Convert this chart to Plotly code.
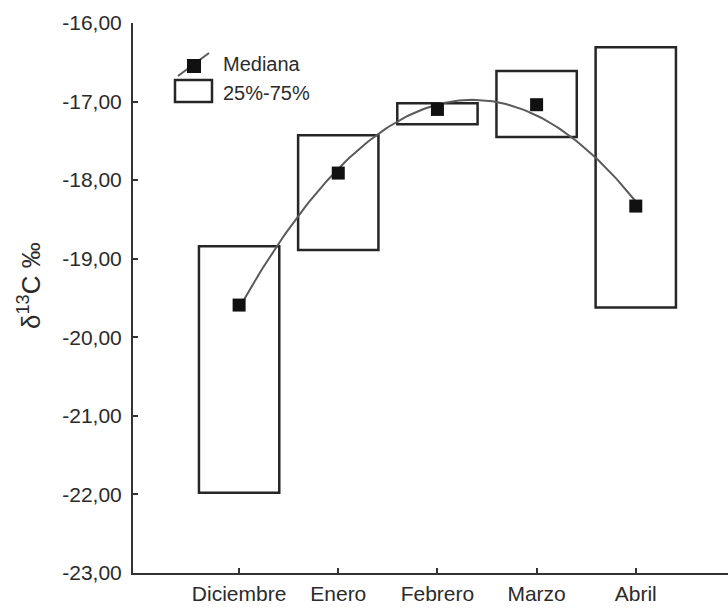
import numpy as np
import plotly.graph_objects as go

# Monthly delta-13C summary (per mil)
meses = ["Diciembre", "Enero", "Febrero", "Marzo", "Abril"]
mediana = [-19.59, -17.91, -17.10, -17.04, -18.33]
p25 = [-21.98, -18.89, -17.29, -17.45, -19.62]
p75 = [-18.84, -17.43, -17.02, -16.61, -16.31]
y_ticks = [-23, -22, -21, -20, -19, -18, -17, -16]
y_tick_text = [f"{v:.2f}".replace(".", ",") for v in y_ticks]

x = np.arange(len(meses))

# quadratic trend through the medians
coef = np.polyfit(x, mediana, 2)
xs = np.linspace(0, len(meses) - 1, 120)
ys = np.polyval(coef, xs)

W, H = 728, 609
L, R, T, B = 133, 0, 23, 36
pw, ph = W - L - R, H - T - B


def px(v):
    return (v - L) / pw


def py(v):
    return (H - B - v) / ph


ink = "#262626"
family = "Arial, Liberation Sans, sans-serif"
font = dict(family=family, size=20, color="#2b2b2b")
tick_font = dict(family=family, size=21, color="#2b2b2b")

fig = go.Figure()

fig.add_trace(go.Bar(
    x=x, base=p25, y=[hi - lo for hi, lo in zip(p75, p25)],
    width=0.81, marker=dict(color="rgba(255,255,255,0)", line=dict(color=ink, width=2.5)),
    showlegend=False, hoverinfo="skip",
))

fig.add_trace(go.Scatter(
    x=xs, y=ys, mode="lines", line=dict(color="#5a5a5a", width=2),
    showlegend=False, hoverinfo="skip",
))

fig.add_trace(go.Scatter(
    x=x, y=mediana, mode="markers",
    marker=dict(symbol="square", size=13, color="#111111"),
    showlegend=False,
))

# legend glyphs
shapes = [
    dict(type="line", xref="paper", yref="paper",
         x0=px(178), y0=py(76), x1=px(209), y1=py(53),
         line=dict(color="#5a5a5a", width=2)),
    dict(type="rect", xref="paper", yref="paper",
         x0=px(187), y0=py(73), x1=px(201), y1=py(59),
         fillcolor="#111111", line=dict(width=0)),
    dict(type="rect", xref="paper", yref="paper",
         x0=px(175), y0=py(102), x1=px(212), y1=py(80),
         fillcolor="white", line=dict(color=ink, width=2.5)),
]

annotations = [
    dict(text="Mediana", xref="paper", yref="paper", x=px(221), y=py(64),
         xanchor="left", yanchor="middle", showarrow=False, font=font),
    dict(text="25%-75%", xref="paper", yref="paper", x=px(221), y=py(93),
         xanchor="left", yanchor="middle", showarrow=False, font=font),
    dict(text="δ<sup>13</sup>C ‰", xref="paper", yref="paper", x=px(29), y=py(286),
         xanchor="center", yanchor="middle", textangle=-90, showarrow=False,
         font=dict(family=family, size=26, color="#2b2b2b")),
]

fig.update_layout(
    width=W, height=H,
    margin=dict(l=L, r=R, t=T, b=B, pad=0),
    paper_bgcolor="white", plot_bgcolor="white",
    font=font,
    barmode="overlay",
    shapes=shapes,
    annotations=annotations,
    showlegend=False,
)

fig.update_xaxes(
    range=[-1.07, 4.93], tickvals=list(x), ticktext=meses,
    showgrid=False, zeroline=False,
    showline=True, linecolor="#333333", linewidth=2,
    ticks="inside", ticklen=5, tickwidth=1.5, tickcolor="#333333",
    tickfont=tick_font, ticklabelstandoff=1,
)
fig.update_yaxes(
    range=[-23, -16], tickvals=y_ticks, ticktext=y_tick_text,
    showgrid=False, zeroline=False,
    showline=True, linecolor="#333333", linewidth=2,
    ticks="inside", ticklen=5, tickwidth=1.5, tickcolor="#333333",
    tickfont=tick_font, ticklabelstandoff=5,
)

fig.write_html("out.html")
